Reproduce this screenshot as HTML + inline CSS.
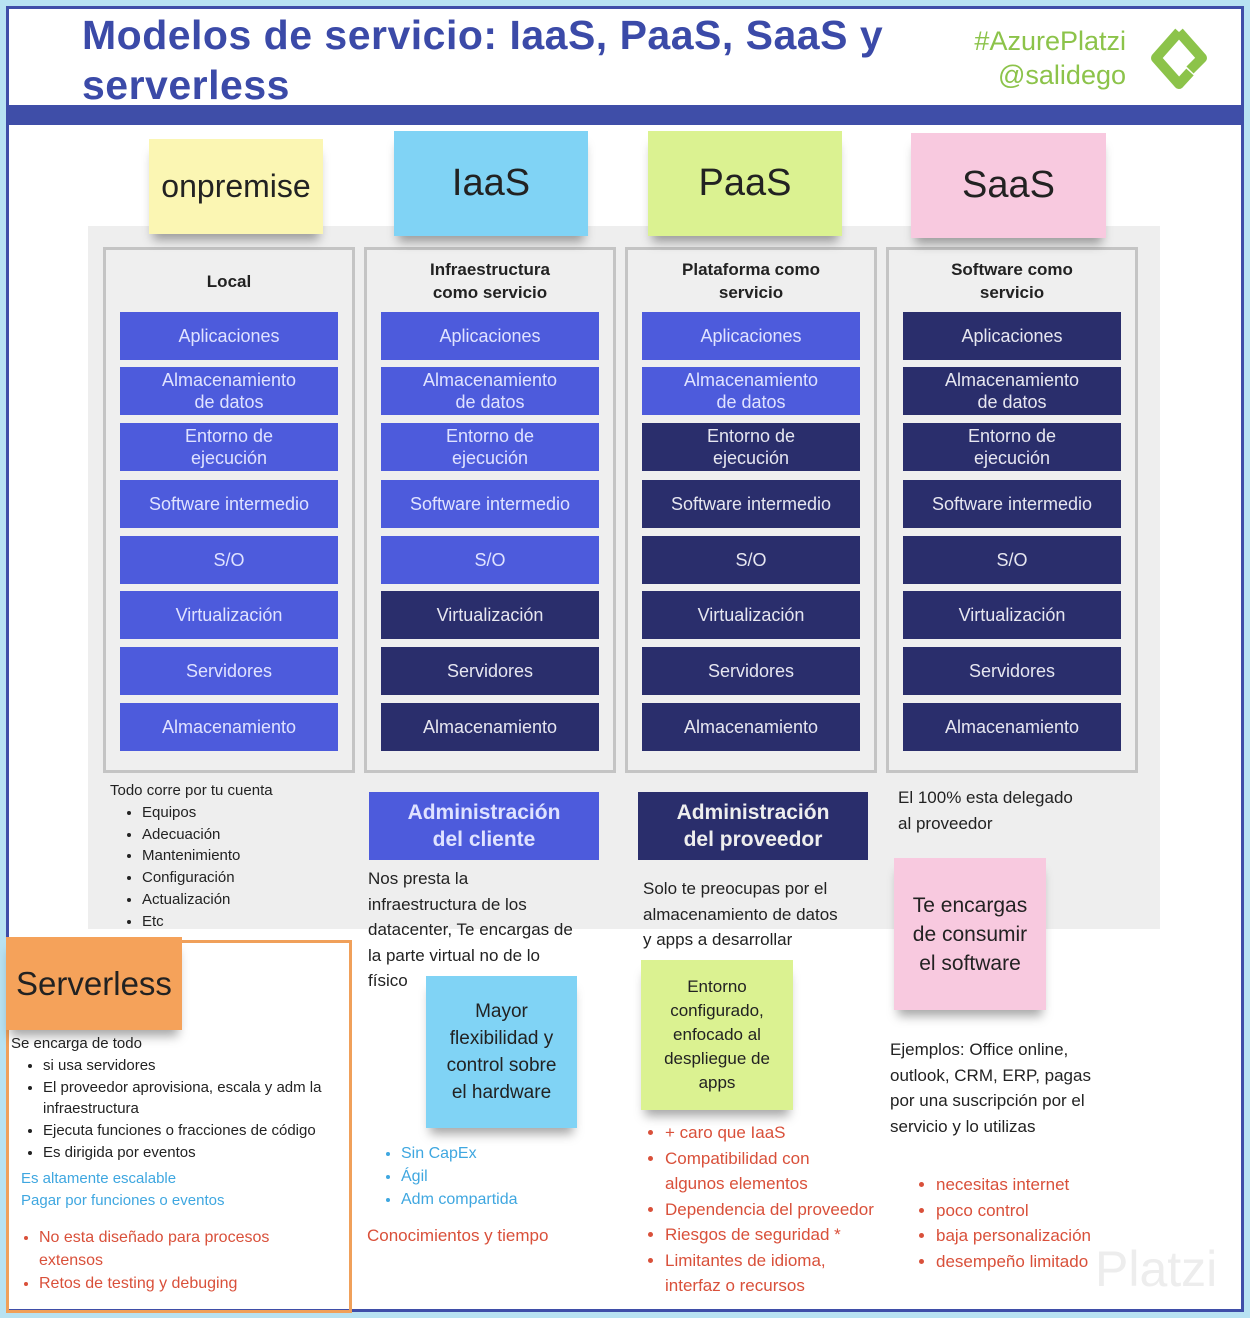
<!DOCTYPE html>
<html><head><meta charset="utf-8"><style>
body{margin:0;width:1250px;height:1318px;position:relative;background:#b8e2f2;font-family:"Liberation Sans","DejaVu Sans",sans-serif;overflow:hidden}
div{position:absolute;box-sizing:border-box}
.t{white-space:nowrap}
.col{border:3px solid #c4c4c4;background:#efefef;width:252px;top:247px;height:526px}
.hd{font-weight:bold;font-size:17px;color:#222;text-align:center;width:252px;line-height:23px}
.r{width:218px;height:48px;color:#dfe2ff;font-size:18px;text-align:center;display:flex;align-items:center;justify-content:center;line-height:22px;background:#4d5bdc;position:absolute}
.d{background:#2a2e6c;color:#e6e6f0}
.st{box-shadow:0 10px 10px -4px rgba(0,0,0,.35);display:flex;align-items:center;justify-content:center;text-align:center;color:#222}
.tx{font-size:17px;color:#222;line-height:25.5px;white-space:nowrap}
ul{margin:0;padding-left:32px}
.red{color:#d9503a}.blu{color:#3fa7e0}
</style></head><body>
<div style="left:6px;top:6px;width:1238px;height:1306px;background:#fff;border:3px solid #3f4ea8"></div>
<div style="left:6px;top:105px;width:1238px;height:20px;background:#3f4ea8"></div>
<div class="t" style="left:82px;top:10px;font-size:41px;font-weight:bold;color:#3b4aa8;line-height:50px;letter-spacing:0.5px">Modelos de servicio: IaaS, PaaS, SaaS y<br>serverless</div>
<div class="t" style="left:960px;top:24px;font-size:27px;color:#8cc34a;text-align:right;width:166px;line-height:34px">#AzurePlatzi<br>@salidego</div>
<svg style="position:absolute;left:1150px;top:26px" width="58" height="64"><path d="M29 6 L6 32 L29 58 L40 46 M29 6 L52 32 L40 44" fill="none" stroke="#8cc34a" stroke-width="10" stroke-linejoin="round"/></svg>
<div style="left:88px;top:226px;width:1072px;height:703px;background:#eeeeee"></div>
<div class="col" style="left:103px"></div><div class="col" style="left:364px"></div><div class="col" style="left:625px"></div><div class="col" style="left:886px"></div>
<div class="hd" style="left:103px;top:270px">Local</div>
<div class="hd" style="left:364px;top:258px">Infraestructura<br>como servicio</div>
<div class="hd" style="left:625px;top:258px">Plataforma como<br>servicio</div>
<div class="hd" style="left:886px;top:258px">Software como<br>servicio</div>
<div class="r" style="left:120px;top:312px">Aplicaciones</div>
<div class="r" style="left:120px;top:367px">Almacenamiento<br>de datos</div>
<div class="r" style="left:120px;top:423px">Entorno de<br>ejecución</div>
<div class="r" style="left:120px;top:480px">Software intermedio</div>
<div class="r" style="left:120px;top:536px">S/O</div>
<div class="r" style="left:120px;top:591px">Virtualización</div>
<div class="r" style="left:120px;top:647px">Servidores</div>
<div class="r" style="left:120px;top:703px">Almacenamiento</div>
<div class="r" style="left:381px;top:312px">Aplicaciones</div>
<div class="r" style="left:381px;top:367px">Almacenamiento<br>de datos</div>
<div class="r" style="left:381px;top:423px">Entorno de<br>ejecución</div>
<div class="r" style="left:381px;top:480px">Software intermedio</div>
<div class="r" style="left:381px;top:536px">S/O</div>
<div class="r d" style="left:381px;top:591px">Virtualización</div>
<div class="r d" style="left:381px;top:647px">Servidores</div>
<div class="r d" style="left:381px;top:703px">Almacenamiento</div>
<div class="r" style="left:642px;top:312px">Aplicaciones</div>
<div class="r" style="left:642px;top:367px">Almacenamiento<br>de datos</div>
<div class="r d" style="left:642px;top:423px">Entorno de<br>ejecución</div>
<div class="r d" style="left:642px;top:480px">Software intermedio</div>
<div class="r d" style="left:642px;top:536px">S/O</div>
<div class="r d" style="left:642px;top:591px">Virtualización</div>
<div class="r d" style="left:642px;top:647px">Servidores</div>
<div class="r d" style="left:642px;top:703px">Almacenamiento</div>
<div class="r d" style="left:903px;top:312px">Aplicaciones</div>
<div class="r d" style="left:903px;top:367px">Almacenamiento<br>de datos</div>
<div class="r d" style="left:903px;top:423px">Entorno de<br>ejecución</div>
<div class="r d" style="left:903px;top:480px">Software intermedio</div>
<div class="r d" style="left:903px;top:536px">S/O</div>
<div class="r d" style="left:903px;top:591px">Virtualización</div>
<div class="r d" style="left:903px;top:647px">Servidores</div>
<div class="r d" style="left:903px;top:703px">Almacenamiento</div>
<div class="st" style="left:149px;top:139px;width:174px;height:95px;background:#fbf6b3;font-size:32px">onpremise</div>
<div class="st" style="left:394px;top:131px;width:194px;height:105px;background:#80d3f5;font-size:38px">IaaS</div>
<div class="st" style="left:648px;top:131px;width:194px;height:105px;background:#dbf291;font-size:38px">PaaS</div>
<div class="st" style="left:911px;top:133px;width:195px;height:105px;background:#f8c9df;font-size:38px">SaaS</div>
<div style="left:369px;top:792px;width:230px;height:68px;background:#4d5bdc;color:#dfe2ff;font-weight:bold;font-size:21px;text-align:center;line-height:27px;padding-top:7px">Administración<br>del cliente</div>
<div style="left:638px;top:792px;width:230px;height:68px;background:#2a2e6c;color:#eee;font-weight:bold;font-size:21px;text-align:center;line-height:27px;padding-top:7px">Administración<br>del proveedor</div>
<div class="t" style="left:110px;top:780px;font-size:15px;color:#222;line-height:21.8px">Todo corre por tu cuenta<ul style="font-size:15px"><li>Equipos</li><li>Adecuación</li><li>Mantenimiento</li><li>Configuración</li><li>Actualización</li><li>Etc</li></ul></div>
<div class="tx" style="left:368px;top:866px">Nos presta la<br>infraestructura de los<br>datacenter, Te encargas de<br>la parte virtual no de lo<br>físico</div>
<div class="tx" style="left:643px;top:876px">Solo te preocupas por el<br>almacenamiento de datos<br>y apps a desarrollar</div>
<div class="tx" style="left:898px;top:785px;line-height:26px">El 100% esta delegado<br>al proveedor</div>
<div style="left:6px;top:940px;width:346px;height:373px;border:3px solid #f0a05a"></div>
<div class="st" style="left:6px;top:937px;width:176px;height:93px;background:#f5a25a;font-size:33px">Serverless</div>
<div class="t" style="left:11px;top:1033px;font-size:15px;color:#222;line-height:21.8px">Se encarga de todo<ul style="padding-left:32px"><li>si usa servidores</li><li>El proveedor aprovisiona, escala y adm la<br>infraestructura</li><li>Ejecuta funciones o fracciones de código</li><li>Es dirigida por eventos</li></ul></div>
<div class="t blu" style="left:21px;top:1168px;font-size:15px;line-height:22px">Es altamente escalable<br>Pagar por funciones o eventos</div>
<div class="t red" style="left:18px;top:1226px;font-size:16px;line-height:23px"><ul style="padding-left:21px"><li>No esta diseñado para procesos<br>extensos</li><li>Retos de testing y debuging</li></ul></div>
<div class="st" style="left:426px;top:976px;width:151px;height:152px;background:#80d3f5;font-size:19px;line-height:27px">Mayor<br>flexibilidad y<br>control sobre<br>el hardware</div>
<div class="st" style="left:641px;top:960px;width:152px;height:150px;background:#dbf291;font-size:17px;line-height:24px">Entorno<br>configurado,<br>enfocado al<br>despliegue de<br>apps</div>
<div class="st" style="left:894px;top:858px;width:152px;height:152px;background:#f8c9df;font-size:21px;line-height:29px">Te encargas<br>de consumir<br>el software</div>
<div class="t blu" style="left:365px;top:1142px;font-size:16px;line-height:23px"><ul style="padding-left:36px"><li>Sin CapEx</li><li>Ágil</li><li>Adm compartida</li></ul></div>
<div class="t red" style="left:367px;top:1226px;font-size:17px">Conocimientos y tiempo</div>
<div class="t red" style="left:643px;top:1120px;font-size:17px;line-height:25.5px"><ul style="padding-left:22px"><li>+ caro que IaaS</li><li>Compatibilidad con<br>algunos elementos</li><li>Dependencia del proveedor</li><li>Riesgos de seguridad *</li><li>Limitantes de idioma,<br>interfaz o recursos</li></ul></div>
<div class="tx" style="left:890px;top:1037px">Ejemplos: Office online,<br>outlook, CRM, ERP, pagas<br>por una suscripción por el<br>servicio y lo utilizas</div>
<div class="t red" style="left:915px;top:1172px;font-size:17px;line-height:25.5px"><ul style="padding-left:21px"><li>necesitas internet</li><li>poco control</li><li>baja personalización</li><li>desempeño limitado</li></ul></div>
<div class="t" style="left:1095px;top:1240px;font-size:50px;color:#ededed">Platzi</div>
</body></html>
